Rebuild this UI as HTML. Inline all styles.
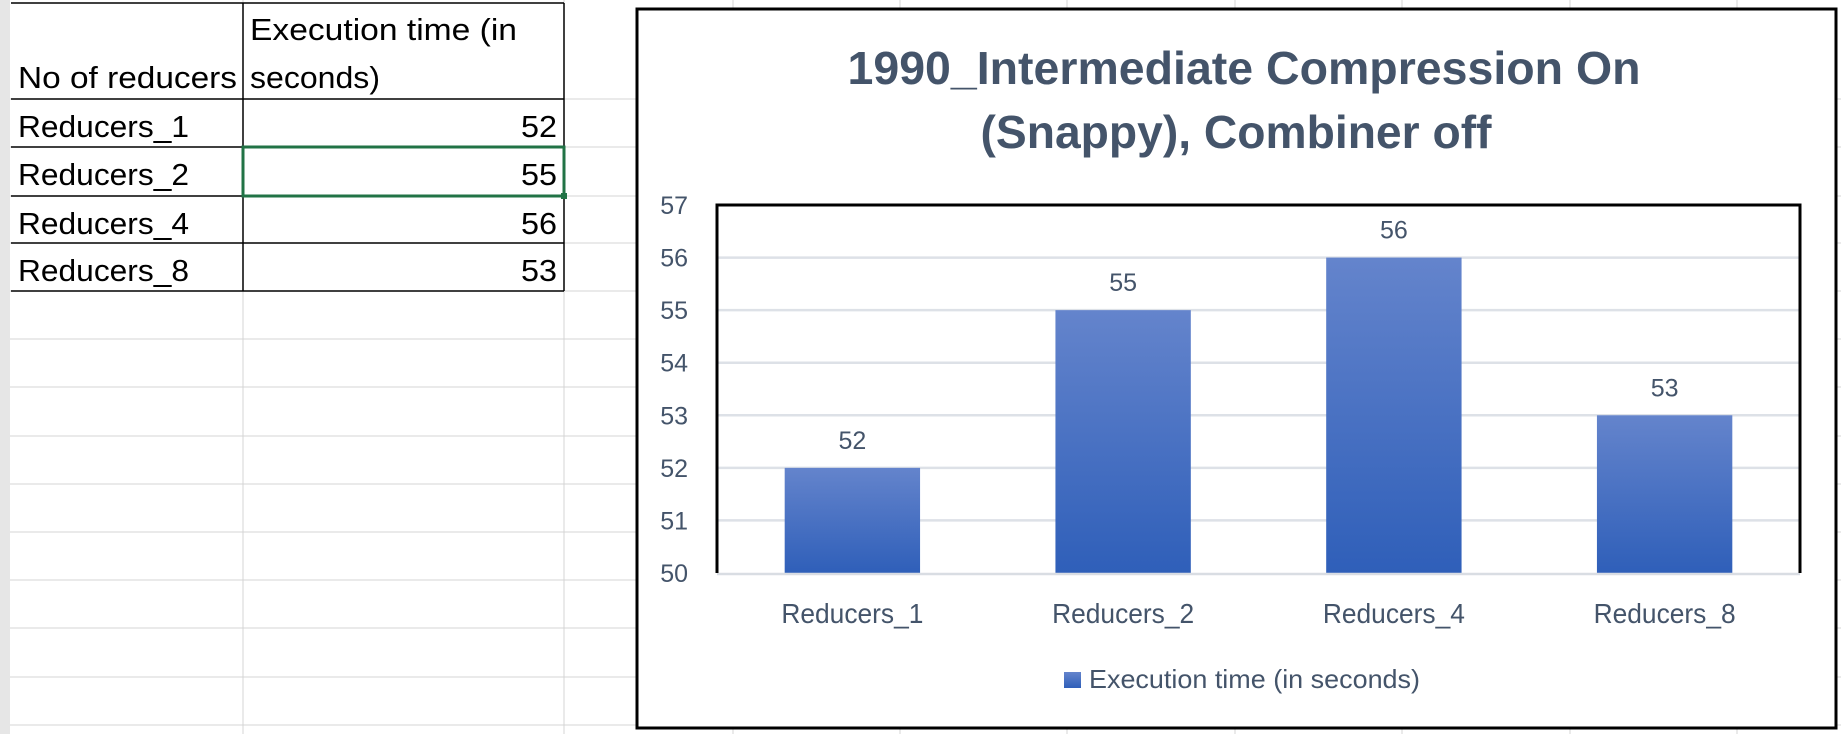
<!DOCTYPE html>
<html><head><meta charset="utf-8"><style>
html,body{margin:0;padding:0;background:#fff;}
svg{display:block;font-family:"Liberation Sans",sans-serif;}
</style></head><body>
<svg id="root" width="1841" height="734" viewBox="0 0 1841 734" xmlns="http://www.w3.org/2000/svg">
<defs>
<linearGradient id="barg" x1="0" y1="0" x2="0" y2="1">
<stop offset="0" stop-color="#6484cc"/><stop offset="1" stop-color="#2f5fb9"/>
</linearGradient>
</defs>
<rect x="0" y="0" width="10" height="734" fill="#e6e6e6"/>
<g id="sheetgrid" stroke="#d4d4d4" stroke-width="1"></g>
<g id="table"></g>
<rect x="637" y="9" width="1199" height="719" fill="#fff" stroke="#000" stroke-width="3"/>
<text x="1244" y="84" text-anchor="middle" font-size="46" font-weight="bold" fill="#44546a" textLength="793" lengthAdjust="spacingAndGlyphs">1990_Intermediate Compression On</text>
<text x="1236" y="148" text-anchor="middle" font-size="46" font-weight="bold" fill="#44546a" textLength="511" lengthAdjust="spacingAndGlyphs">(Snappy), Combiner off</text>
<g id="plot"></g>
<rect x="1064" y="672" width="17" height="16" fill="url(#barg)"/>
<text x="1089" y="688" font-size="26" fill="#44546a" textLength="331" lengthAdjust="spacingAndGlyphs">Execution time (in seconds)</text>
</svg>
<script>
const categories = ["Reducers_1","Reducers_2","Reducers_4","Reducers_8"];
const values = [52,55,56,53];
const yTicks = [50,51,52,53,54,55,56,57];
const NS = "http://www.w3.org/2000/svg";
function mk(tag, attrs, parent, txt){const e=document.createElementNS(NS,tag);for(const k in attrs)e.setAttribute(k,attrs[k]);if(txt!==undefined)e.textContent=txt;parent.appendChild(e);return e;}
const pl=717, pr=1800, pt=205, pb=573, yMin=50, yMax=57;
function y(v){return pb-(v-yMin)/(yMax-yMin)*(pb-pt);}
function xc(i){return pl+(i+0.5)*(pr-pl)/categories.length;}
const bw=(pr-pl)/categories.length*0.5;

const sg=document.getElementById('sheetgrid');
[99,147,196,243,291,339,387,436,484,532,580,628,677,725].forEach(yy=>{const l=mk('line',{x1:10,x2:1841,y1:yy,y2:yy},sg);});
[243,564,733,900,1067,1235,1402,1570,1737].forEach(xx=>{const l=mk('line',{x1:xx,x2:xx,y1:0,y2:734},sg);});

const tb=document.getElementById('table');
const rowsY=[99,147,196,243,291];
mk('rect',{x:11,y:3,width:553,height:288,fill:'#fff'},tb);
[3].concat(rowsY).forEach(yy=>{const l=mk('line',{x1:11,x2:564,y1:yy,y2:yy,stroke:'#000','stroke-width':1.5},tb);});
[243,564].forEach(xx=>{const l=mk('line',{x1:xx,x2:xx,y1:3,y2:291,stroke:'#000','stroke-width':1.5},tb);});
let t=mk('text',{x:18,y:88,'font-size':31,fill:'#000',textLength:219,lengthAdjust:'spacingAndGlyphs'},tb,'No of reducers');

t=mk('text',{x:250,y:40,'font-size':31,fill:'#000',textLength:267,lengthAdjust:'spacingAndGlyphs'},tb,'Execution time (in');

t=mk('text',{x:250,y:88,'font-size':31,fill:'#000',textLength:130,lengthAdjust:'spacingAndGlyphs'},tb,'seconds)');

categories.forEach((c,i)=>{
  const by=rowsY[i]+38;
  let a=mk('text',{x:18,y:by,'font-size':31,fill:'#000',textLength:171,lengthAdjust:'spacingAndGlyphs'},tb,c);
  
  let b=mk('text',{x:557,y:by,'font-size':31,fill:'#000','text-anchor':'end',textLength:36,lengthAdjust:'spacingAndGlyphs'},tb,String(values[i]));
  
});
const sel=mk('rect',{x:243,y:147,width:321,height:49,fill:'none',stroke:'#217346','stroke-width':3},tb);

const hd=mk('rect',{x:561,y:193,width:6,height:6,fill:'#217346'},tb);


const p=document.getElementById('plot');
yTicks.forEach(v=>{
  if(v>yMin&&v<yMax){const g=mk('line',{x1:pl,x2:pr,y1:y(v),y2:y(v),stroke:'#dde1e7','stroke-width':2.5},p);}
  const tl=mk('text',{x:688,y:y(v)+9,'font-size':25,fill:'#44546a','text-anchor':'end'},p,String(v));
  
});
categories.forEach((c,i)=>{
  const r=mk('rect',{x:xc(i)-bw/2,y:y(values[i]),width:bw,height:pb-y(values[i]),fill:'url(#barg)'},p);
  
  const vl=mk('text',{x:xc(i),y:y(values[i])-19,'font-size':25,fill:'#44546a','text-anchor':'middle'},p,String(values[i]));
  
  const cl=mk('text',{x:xc(i),y:623,'font-size':28,fill:'#44546a','text-anchor':'middle',textLength:142,lengthAdjust:'spacingAndGlyphs'},p,c);
  
});
const ax=mk('line',{x1:pl,x2:pr,y1:pb+1,y2:pb+1,stroke:'#d9dde3','stroke-width':2.5},p);

const pf=mk('path',{d:`M${pl} ${pb} V${pt} H${pr} V${pb}`,fill:'none',stroke:'#000','stroke-width':3},p);

</script>
</body></html>
